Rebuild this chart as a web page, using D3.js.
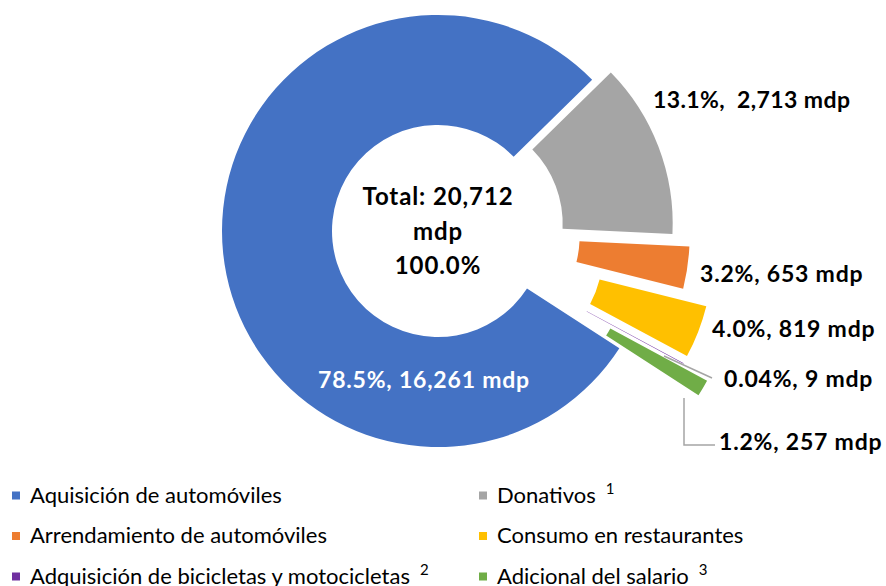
<!DOCTYPE html>
<html>
<head>
<meta charset="utf-8">
<script src="https://cdn.jsdelivr.net/npm/d3@7"></script>
<style>
  html, body { margin: 0; padding: 0; background: #fff; }
  svg { display: block; font-family: Lato, "Open Sans", sans-serif; }
</style>
</head>
<body>
<svg id="chart" width="886" height="586"></svg>
<script>
// Data
const categories = [
    "Aquisición de automóviles",
    "Donativos",
    "Arrendamiento de automóviles",
    "Consumo en restaurantes",
    "Adquisición de bicicletas y motocicletas",
    "Adicional del salario"
];
const values = [16261, 2713, 653, 819, 9, 257];
const percents = ["78.5%", "13.1%", "3.2%", "4.0%", "0.04%", "1.2%"];
const notes = ["", "1", "", "", "2", "3"];
const totalLabel = ["Total: 20,712", "mdp", "100.0%"];

const colors = ["#4472C4", "#A5A5A5", "#ED7D31", "#FFC000", "#7030A0", "#70AD47"];

const svg = d3.select('#chart');
const cx = 438, cy = 231;
const rInner = 106, rOuter = 216;
const startDeg = 122.9;

// how far each slice is pulled out from the centre
// (the 0.04% sliver sits against the yellow one, where it can't really be seen)
const explode = [0, 20, 36, 63, 63, 92];

const fmt = d3.format(',');
const labelText = (i) => i === 1
    ? `${percents[i]},  ${fmt(values[i])} mdp`
    : `${percents[i]}, ${fmt(values[i])} mdp`;

const pie = d3.pie()
    .sort(null)
    .value(d => d)
    .startAngle(startDeg * Math.PI / 180)
    .endAngle(startDeg * Math.PI / 180 + 2 * Math.PI);

const arc = d3.arc().innerRadius(rInner).outerRadius(rOuter);
const arcs = pie(values);

function offset(a, d) {
    const mid = (a.startAngle + a.endAngle) / 2;
    return [Math.sin(mid) * d, -Math.cos(mid) * d];
}

const g = svg.append('g').attr('transform', `translate(${cx},${cy})`);

g.selectAll('path.slice')
    .data(arcs)
    .join('path')
    .attr('class', 'slice')
    .attr('d', arc)
    .attr('fill', (d, i) => colors[i])
    .attr('transform', (d, i) => {
        const [dx, dy] = offset(d, explode[i]);
        return `translate(${dx},${dy})`;
    });

// Centre text
g.selectAll('text.total')
    .data(totalLabel)
    .join('text')
    .attr('class', 'total')
    .attr('x', 0)
    .attr('y', (d, i) => -26 + i * 34.5)
    .attr('text-anchor', 'middle')
    .style('font-size', '24px')
    .style('font-weight', 'bold')
    .style('letter-spacing', '0.9px')
    .attr('fill', '#000')
    .text(d => d);

// Leader lines
const lineColor = '#A5A5A5';
svg.append('polyline')
    .attr('points', '664,356 712,378')
    .attr('fill', 'none')
    .attr('stroke', lineColor)
    .attr('stroke-width', 1.5);
svg.append('polyline')
    .attr('points', '684,398 684,445 715,445')
    .attr('fill', 'none')
    .attr('stroke', lineColor)
    .attr('stroke-width', 1.5);

// Data labels (manually placed like in the source chart)
const labelPos = [
    [318, 388, '#fff'],
    [653, 108, '#000'],
    [700, 282, '#000'],
    [712, 337, '#000'],
    [724, 387, '#000'],
    [719, 450, '#000']
];
svg.selectAll('text.lbl')
    .data(arcs)
    .join('text')
    .attr('class', 'lbl')
    .attr('x', (d, i) => labelPos[i][0])
    .attr('y', (d, i) => labelPos[i][1])
    .attr('fill', (d, i) => labelPos[i][2])
    .style('font-size', '23px')
    .style('font-weight', 'bold')
    .style('letter-spacing', (d, i) => i === 1 ? '0.4px' : '0.8px')
    .style('white-space', 'pre')
    .text((d, i) => labelText(i));

// Legend, two columns
const legend = svg.append('g').attr('class', 'legend');
const items = legend.selectAll('g')
    .data(categories)
    .join('g')
    .attr('transform', (d, i) => `translate(${i % 2 === 0 ? 12 : 479},${495.5 + Math.floor(i / 2) * 40.5})`);

items.append('rect')
    .attr('x', 0)
    .attr('y', -4)
    .attr('width', 8)
    .attr('height', 8)
    .attr('fill', (d, i) => colors[i]);

const lt = items.append('text')
    .attr('x', 18)
    .attr('y', 7)
    .style('font-size', '22px')
    .attr('fill', '#000')
    .text(d => d);

lt.append('tspan')
    .attr('dx', 10)
    .attr('dy', -9)
    .style('font-size', '15px')
    .text((d, i) => notes[i]);
</script>
</body>
</html>
